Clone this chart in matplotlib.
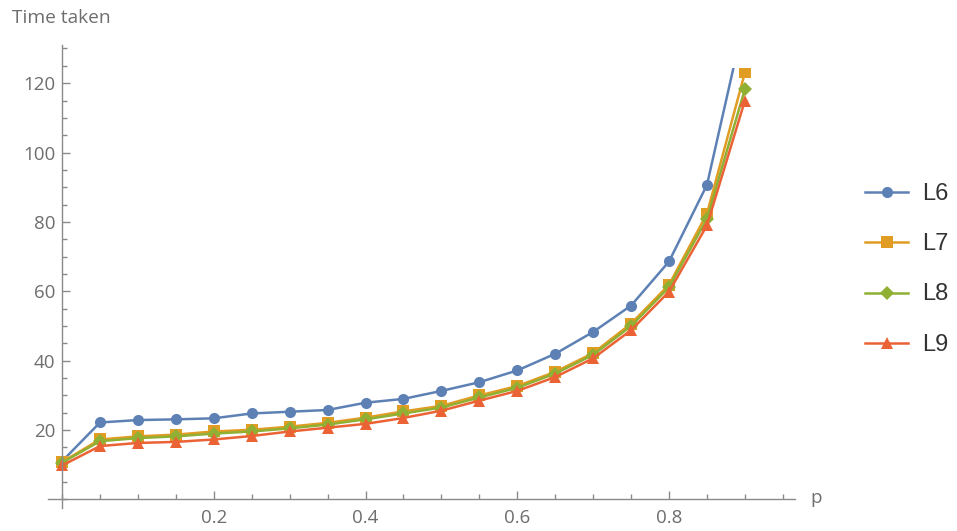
import matplotlib
matplotlib.use("Agg")
import matplotlib.pyplot as plt
from matplotlib.patches import Rectangle
from matplotlib.ticker import MultipleLocator, FixedLocator

plt.rcParams['font.family'] = ['Open Sans', 'DejaVu Sans']

p = [0.0, 0.05, 0.1, 0.15, 0.2, 0.25, 0.3, 0.35, 0.4, 0.45,
     0.5, 0.55, 0.6, 0.65, 0.7, 0.75, 0.8, 0.85, 0.9]
L6 = [11.0, 22.2, 22.9, 23.1, 23.4, 24.8, 25.3, 25.8, 27.9, 29.0,
      31.3, 33.8, 37.2, 42.0, 48.3, 55.9, 68.6, 90.7, 139.0]
L7 = [10.8, 17.3, 18.2, 18.7, 19.6, 20.1, 21.0, 22.1, 23.6, 25.4,
      27.0, 30.0, 32.7, 36.8, 42.2, 50.7, 61.9, 82.4, 123.1]
L8 = [10.6, 16.8, 17.7, 18.2, 19.0, 19.6, 20.5, 21.6, 23.1, 24.8,
      26.5, 29.4, 32.2, 36.3, 41.7, 50.0, 61.2, 80.9, 118.3]
L9 = [9.8, 15.4, 16.3, 16.6, 17.3, 18.3, 19.6, 20.7, 21.8, 23.5,
      25.6, 28.5, 31.3, 35.3, 40.7, 48.8, 59.9, 79.0, 115.0]

names = ['L6', 'L7', 'L8', 'L9']
series = [L6, L7, L8, L9]
colors = ['#5E81B5', '#E19C24', '#8FB032', '#EB6235']
markers = ['o', 's', 'D', '^']
msizes = [8, 8, 7, 8.5]

x_ticks = [0.2, 0.4, 0.6, 0.8]
y_ticks = [20, 40, 60, 80, 100, 120]

fig = plt.figure(figsize=(9.57, 5.31), dpi=100)
ax = fig.add_axes([48/957, 23/531, (795-48)/957, (508-45)/531])
ax.set_xlim(-0.0185, 0.966)
ax.set_ylim(-2.45, 131)

clip = Rectangle((-1, -10), 3, 134.5, transform=ax.transData)
handles = []
for name, ys, c, m, ms in zip(names, series, colors, markers, msizes):
    ln, = ax.plot(p, ys, color=c, marker=m, markersize=ms, linewidth=1.8,
                  markeredgewidth=0, label=name, clip_on=True)
    ln.set_clip_path(clip)
    handles.append(ln)

for s in ['top', 'right']:
    ax.spines[s].set_visible(False)
ax.spines['left'].set_position(('data', 0))
ax.spines['bottom'].set_position(('data', 0))
axis_col = '#8a8a8a'
for s in ['left', 'bottom']:
    ax.spines[s].set_color(axis_col)
    ax.spines[s].set_linewidth(1.0)

ax.xaxis.set_major_locator(FixedLocator(x_ticks))
ax.xaxis.set_minor_locator(MultipleLocator(0.05))
ax.yaxis.set_major_locator(FixedLocator(y_ticks))
ax.yaxis.set_minor_locator(MultipleLocator(5))
ax.set_xticklabels([f'{v:.1f}' for v in x_ticks])
ax.set_yticklabels([str(v) for v in y_ticks])
ax.tick_params(axis='both', which='major', direction='in', length=6,
               width=1.0, color=axis_col, labelcolor='#6e6e6e', labelsize=13.5)
ax.tick_params(axis='both', which='minor', direction='in', length=3.8,
               width=1.0, color=axis_col)
ax.tick_params(axis='x', which='major', pad=7)
ax.tick_params(axis='y', which='major', pad=5)

fig.text(12/957, 1 - 18/531, 'Time taken', fontsize=13.8, color='#6e6e6e',
         ha='left', va='center')
fig.text(810/957, 1 - 498/531, 'p', fontsize=13.5, color='#6e6e6e',
         ha='left', va='center')

leg = fig.legend(handles=handles, loc='upper left',
                 bbox_to_anchor=(845/957, 1 - 163/531), frameon=False,
                 fontsize=16, handlelength=1.95, handletextpad=0.6,
                 labelspacing=1.27, labelcolor='#333333')
for t in leg.get_texts():
    t.set_fontfamily(['Liberation Sans', 'DejaVu Sans'])
    t.set_fontsize(17)

fig.savefig('out.png', dpi=100)
